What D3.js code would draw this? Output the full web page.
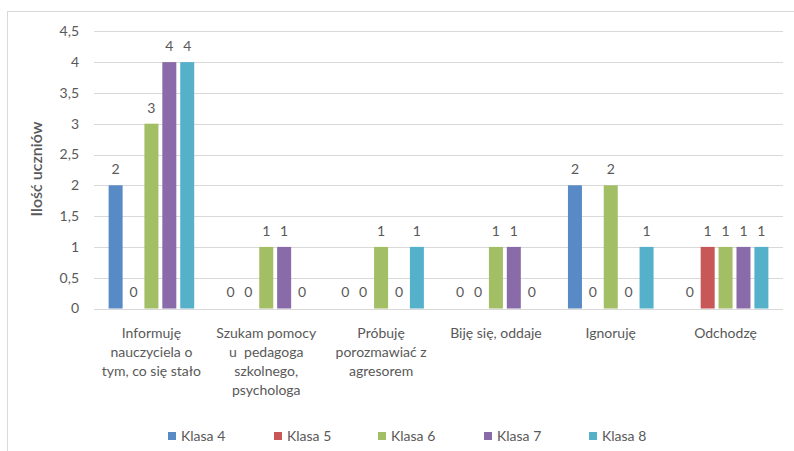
<!DOCTYPE html>
<html><head><meta charset="utf-8">
<script src="https://cdn.jsdelivr.net/npm/d3@7"></script>
<style>body{margin:0;background:#fff}svg{display:block}text{white-space:pre}</style>
</head><body><div id="c"></div>
<script>
const categories = [
  ["Informuję","nauczyciela o","tym, co się stało"],
  ["Szukam pomocy","u  pedagoga","szkolnego,","psychologa"],
  ["Próbuję","porozmawiać z","agresorem"],
  ["Biję się, oddaje"],
  ["Ignoruję"],
  ["Odchodzę"]
];
const seriesNames = ["Klasa 4","Klasa 5","Klasa 6","Klasa 7","Klasa 8"];
const klasa4 = [2,0,0,0,2,0];
const klasa5 = [0,0,0,0,0,1];
const klasa6 = [3,1,1,1,2,1];
const klasa7 = [4,1,0,1,0,1];
const klasa8 = [4,0,1,0,1,1];
const seriesValues = [klasa4,klasa5,klasa6,klasa7,klasa8];
const colors = ["#588AC5","#C75857","#A2BF65","#896BA9","#55B1CA"];
const yTicks = [0,0.5,1,1.5,2,2.5,3,3.5,4,4.5];
const yTitle = "Ilość uczniów";

const W=794,H=451;
const font = "Lato, 'Open Sans', sans-serif";
const txt = "#595959";
const svg = d3.select("#c").append("svg").attr("width",W).attr("height",H)
  .style("font-family",font);

svg.append("rect").attr("x",7.5).attr("y",11.5).attr("width",W+10).attr("height",H+10)
  .attr("fill","none").attr("stroke","#d9d9d9");

const x0 = d3.scaleBand().domain(d3.range(categories.length)).range([94,783]).padding(0);
const x1 = d3.scaleBand().domain(d3.range(seriesNames.length)).range([0,x0.bandwidth()])
  .paddingInner(0.218).paddingOuter(0.816);
const y = d3.scaleLinear().domain([0,4.5]).range([308.5,31.3]);

const fmt = v => String(v).replace(".",",");

svg.append("g").selectAll("line").data(yTicks).join("line")
  .attr("x1",94).attr("x2",783)
  .attr("y1",d=>Math.round(y(d))+0.5).attr("y2",d=>Math.round(y(d))+0.5)
  .attr("stroke","#d9d9d9").attr("stroke-width",1);

svg.append("g").selectAll("text").data(yTicks).join("text")
  .attr("x",79).attr("y",d=>y(d)).attr("dy","0.35em")
  .attr("text-anchor","end").attr("fill",txt).attr("font-size",14)
  .text(fmt);

svg.append("text").attr("transform","translate(36,169) rotate(-90)")
  .attr("text-anchor","middle").attr("dy","0.35em").attr("fill",txt).attr("font-size",16)
  .attr("font-weight",600)
  .text(yTitle);

const groups = svg.append("g").selectAll("g").data(categories).join("g")
  .attr("transform",(d,i)=>`translate(${x0(i)},0)`);

groups.selectAll("rect").data((d,i)=>seriesValues.map((s,j)=>({j,v:s[i]}))).join("rect")
  .attr("x",d=>x1(d.j)).attr("width",x1.bandwidth())
  .attr("y",d=>y(d.v)).attr("height",d=>y(0)-y(d.v))
  .attr("fill",d=>colors[d.j]);

groups.selectAll("text.val").data((d,i)=>seriesValues.map((s,j)=>({j,v:s[i]}))).join("text")
  .attr("class","val")
  .attr("x",d=>x1(d.j)+x1.bandwidth()/2).attr("y",d=>y(d.v)-16).attr("dy","0.35em")
  .attr("text-anchor","middle").attr("fill",txt).attr("font-size",14)
  .text(d=>fmt(d.v));

groups.append("text").attr("text-anchor","middle").attr("fill",txt).attr("font-size",14)
  .selectAll("tspan").data(d=>d).join("tspan")
  .attr("x",x0.bandwidth()/2).attr("y",(d,k)=>333+k*19).attr("dy","0.35em")
  .text(d=>d);

const legendX = [168,274,378,484,589];
const lg = svg.append("g").selectAll("g").data(seriesNames).join("g")
  .attr("transform",(d,i)=>`translate(${legendX[i]},436)`);
lg.append("rect").attr("x",0).attr("y",-4).attr("width",8).attr("height",8)
  .attr("fill",(d,i)=>colors[i]);
lg.append("text").attr("x",13).attr("y",0).attr("dy","0.35em")
  .attr("fill",txt).attr("font-size",14).text(d=>d);
</script></body></html>
